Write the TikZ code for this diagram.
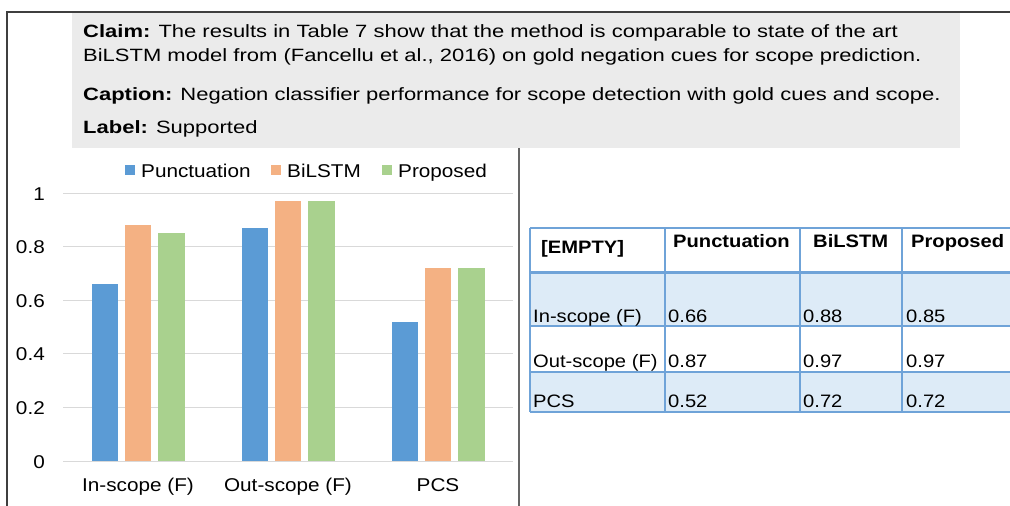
\documentclass[tikz,border=0pt]{standalone}
\usepackage{fontspec}
\setmainfont{Liberation Sans}[FakeStretch=1.12]
\newfontfamily\claimfont{Liberation Sans}[FakeStretch=1.235]

\definecolor{framegray}{HTML}{3F3F3F}
\definecolor{boxgray}{HTML}{EBEBEB}
\definecolor{gridgray}{HTML}{D9D9D9}
\definecolor{punctblue}{HTML}{5B9BD5}
\definecolor{bilstmorange}{HTML}{F4B183}
\definecolor{proposedgreen}{HTML}{A9D18E}
\definecolor{rowblue}{HTML}{DDEBF7}
\definecolor{tableline}{HTML}{6FA3D8}

\tikzset{
  txt/.style={inner sep=0pt, anchor=base west, font=\claimfont\fontsize{17.8}{22}\selectfont},
  charttxt/.style={inner sep=0pt, anchor=base, font=\fontsize{18.5}{22}\selectfont},
  celltxt/.style={inner sep=0pt, anchor=base west, font=\fontsize{18}{22}\selectfont},
  headtxt/.style={celltxt, font=\fontsize{18}{22}\selectfont\bfseries},
  legendbox/.style={minimum size=10pt, inner sep=0pt},
}

\begin{document}
\begin{tikzpicture}[x=1pt,y=-1pt]
    \useasboundingbox (0,0) rectangle (1010,506);

    % Frame and the gray text box:
    \fill [boxgray] (72,12) rectangle (960,148);
    \draw [framegray, line width=1.5pt] (7,506) -- (7,12) -- (1010,12);
    \draw [framegray!80, line width=2pt] (519,148) -- (519,506);

    % Claim, caption and label:
    \node [txt] (claim) at (83,37) {\textbf{Claim:} The results in Table 7 show that the method is comparable to state of the art};
    \node [txt] (claimb) at (83,61.5) {BiLSTM model from (Fancellu et al., 2016) on gold negation cues for scope prediction.};
    \node [txt] (caption) at (83,100) {\textbf{Caption:} Negation classifier performance for scope detection with gold cues and scope.};
    \node [txt] (label) at (83,133) {\textbf{Label:} Supported};

    % Bar chart:
    % gridlines every 0.2, y(v) = 461 - 268 v
    \foreach \v in {0,0.2,0.4,0.6,0.8,1} {
        \draw [gridgray, line width=1pt] (63,{461-268*\v}) -- (513,{461-268*\v});
        \node [charttxt, anchor=base east] at (45,{468-268*\v}) {\v};
    }
    \foreach \g/\a/\b/\c/\name in {138/0.66/0.88/0.85/In-scope (F), 288/0.87/0.97/0.97/Out-scope (F), 438/0.52/0.72/0.72/PCS} {
        \fill [punctblue] (\g-46,461) rectangle (\g-20,{461-268*\a});
        \fill [bilstmorange] (\g-13,461) rectangle (\g+13,{461-268*\b});
        \fill [proposedgreen] (\g+20,461) rectangle (\g+47,{461-268*\c});
        \node [charttxt] at (\g,491.5) {\name};
    }

    % Legend:
    \node [legendbox, fill=punctblue] (legpunct) at (130,170) {};
    \node [charttxt, anchor=base west] (legpuncttxt) at (141,177) {Punctuation};
    \node [legendbox, fill=bilstmorange] (legbilstm) at (276,170) {};
    \node [charttxt, anchor=base west] (legbilstmtxt) at (287,177) {BiLSTM};
    \node [legendbox, fill=proposedgreen] (legprop) at (387,170) {};
    \node [charttxt, anchor=base west] (legproptxt) at (398,177) {Proposed};

    % Table:
    \fill [rowblue] (530,272) rectangle (1010,326);
    \fill [rowblue] (530,372) rectangle (1010,412);
    \begin{scope}[tableline, line width=1.5pt]
    \foreach \x in {530,665,800,902}
        \draw (\x,228) -- (\x,412);
    \foreach \y in {228,326,372,412}
        \draw (530,\y) -- (1010,\y);
    \draw [line width=3pt] (530,272) -- (1010,272);
    \end{scope}

    \node [headtxt] (hempty) at (541,253) {[EMPTY]};
    \node [headtxt] (hpunct) at (673,247) {Punctuation};
    \node [headtxt] (hbilstm) at (813,247) {BiLSTM};
    \node [headtxt] (hprop) at (911,247) {Proposed};

    \node [celltxt] (rin) at (533,322) {In-scope (F)};
    \node [celltxt] at (668,322) {0.66};
    \node [celltxt] at (803,322) {0.88};
    \node [celltxt] at (906,322) {0.85};
    \node [celltxt] (rout) at (533,367) {Out-scope (F)};
    \node [celltxt] at (668,367) {0.87};
    \node [celltxt] at (803,367) {0.97};
    \node [celltxt] at (906,367) {0.97};
    \node [celltxt] (rpcs) at (533,407) {PCS};
    \node [celltxt] at (668,407) {0.52};
    \node [celltxt] at (803,407) {0.72};
    \node [celltxt] at (906,407) {0.72};
\end{tikzpicture}
\end{document}
